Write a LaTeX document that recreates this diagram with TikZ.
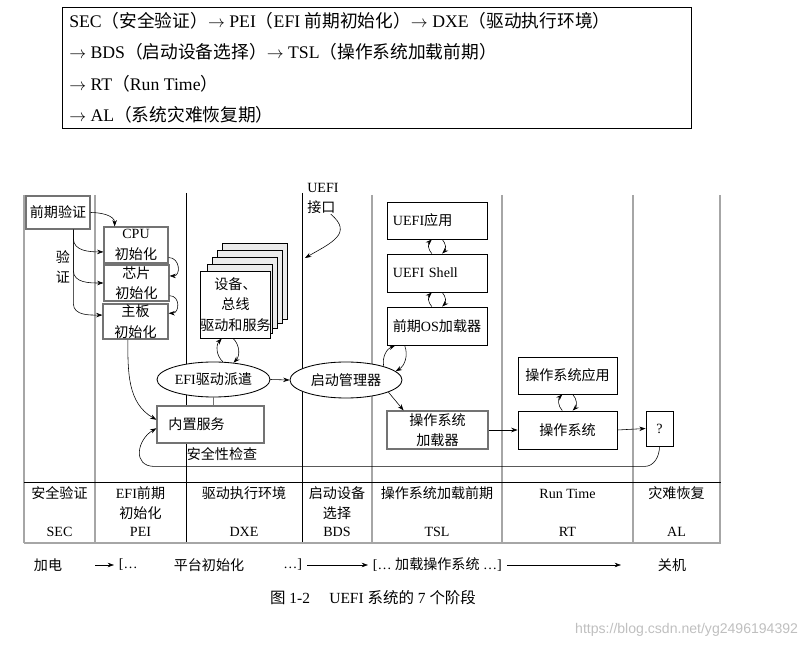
\documentclass[tikz,border=0pt]{standalone}
\usepackage{fontspec}
\setmainfont{Liberation Serif}
\newfontfamily\cjkfont{Noto Sans CJK SC}
\newfontfamily\urlfont{Liberation Sans}
\newcommand{\zh}[1]{{\cjkfont #1}}
\usetikzlibrary{arrows.meta,shapes.geometric}

\begin{document}
\begin{tikzpicture}[x=0.025cm,y=-0.025cm,
    >={Stealth[length=4.5pt,width=3.2pt]},
    font=\fontsize{10}{14.5}\selectfont,
    box/.style={draw,fill=white,line width=0.6pt,inner sep=0pt,align=center},
    gbox/.style={box,draw=black!55,line width=0.8pt},
    oval/.style={ellipse,draw,fill=white,line width=0.6pt,inner sep=0pt},
    gline/.style={draw=black!35,line width=1.1pt},
    vline/.style={draw=black,line width=0.6pt},
    riga/.style={anchor=west,inner sep=0pt,font=\fontsize{12.6}{14}\selectfont}]
    \useasboundingbox (0,0) rectangle (810,648);

    % Riquadro con le fasi
    \draw[line width=0.6pt] (62,7) rectangle (691,128);
    \node[riga] (riga1) at (69,21) {SEC\zh{（安全验证）}$\rightarrow$ PEI\zh{（}EFI \zh{前期初始化）}$\rightarrow$ DXE\zh{（驱动执行环境）}};
    \node[riga] (riga2) at (69,52) {$\rightarrow$ BDS\zh{（启动设备选择）}$\rightarrow$ TSL\zh{（操作系统加载前期）}};
    \node[riga] (riga3) at (69,84) {$\rightarrow$ RT\zh{（}Run Time\zh{）}};
    \node[riga] (riga4) at (69,115) {$\rightarrow$ AL\zh{（系统灾难恢复期）}};

    % Colonne delle fasi
    \foreach \x in {24,95,372,502,633,720}
        \draw[gline] (\x,195) -- (\x,543);
    \foreach \x in {186,302}
        \draw[vline] (\x,193) -- (\x,543);

    % SEC e PEI
    \node[gbox,minimum width=1.6cm,minimum height=0.825cm] (pre) at (58,212.5) {\zh{前期验证}};
    \node[gbox,minimum width=1.6cm,minimum height=0.9cm] (cpu) at (136,245) {CPU\\\zh{初始化}};
    \node[gbox,minimum width=1.625cm,minimum height=0.9cm] (chip) at (136.5,283) {\zh{芯片}\\\zh{初始化}};
    \node[gbox,minimum width=1.625cm,minimum height=0.875cm] (board) at (135.5,321.5) {\zh{主板}\\\zh{初始化}};
    \node[align=center] (yanzheng) at (63,267) {\zh{验}\\\zh{证}};

    \draw[->] (pre.east) to[out=0,in=90] (cpu.139);
    \draw[->] (pre.-48) -- ++(0,9) to[out=-90,in=180] (cpu.192);
    \draw[->] (pre.-48) -- ++(0,41) to[out=-90,in=180] (chip.west);
    \draw[->] (pre.-48) -- ++(0,74) to[out=-90,in=180] (board.169);
    \draw[->] (cpu.-21) to[out=0,in=0,looseness=1.6] (chip.12);
    \draw[->] (chip.-21) to[out=0,in=0,looseness=1.6] (board.14);

    % DXE
    \foreach \k in {4,3,2,1}
        \filldraw[fill=black!8,draw=black,line width=0.6pt] (203+4.75*\k,271-7*\k) rectangle (268+4.75*\k,338-4.75*\k);
    \node[box,minimum width=1.625cm,minimum height=1.675cm] (stack) at (235.5,304.5) {\zh{设备、}\\\zh{总线}\\\zh{驱动和服务}};
    \node[oval,minimum width=2.825cm,minimum height=0.875cm] (efi) at (213.5,379.5) {EFI\zh{驱动派遣}};
    \node[gbox,minimum width=2.675cm,minimum height=0.925cm,text width=2.1cm,align=left] (builtin) at (210.5,424.5) {\zh{内置服务}};
    \node (check) at (222,454) {\zh{安全性检查}};

    \draw[->] (efi.62) to[bend left=45] (stack.-112);
    \draw[->] (stack.-94) to[bend left=45] (efi.40);
    \draw[draw=black!55] (efi.south) -- (efi.south |- builtin.north);
    \draw[->] (board.-113) to[out=-90,in=150] (builtin.175);

    % BDS
    \node[anchor=north west,align=left,inner sep=0pt] (iface) at (307,183) {UEFI\\\zh{接口}};
    \coordinate (dxeedge) at (305,258);
    \draw[->] ([xshift=0.2cm]iface.south) to[out=-40,in=30,looseness=1.5] (dxeedge);
    \node[oval,minimum width=2.8cm,minimum height=0.9cm] (bm) at (346,380) {\zh{启动管理器}};
    \draw[->] (efi.east) -- (bm.west);

    % TSL
    \node[box,minimum width=2.5cm,minimum height=0.925cm,text width=2.2cm,align=left] (app) at (437,220.5) {UEFI\zh{应用}};
    \node[box,minimum width=2.5cm,minimum height=0.95cm,text width=2.2cm,align=left] (shell) at (437,273) {UEFI Shell};
    \node[box,minimum width=2.5cm,minimum height=0.95cm] (osl) at (437,326) {\zh{前期}OS\zh{加载器}};
    \node[gbox,minimum width=2.525cm,minimum height=0.95cm] (loader) at (437.5,430) {\zh{操作系统}\\\zh{加载器}};

    \draw[->] (bm.20) to[bend left=40] (osl.-155);
    \draw[->] (osl.-149) to[bend left=40] (bm.10);
    \draw[->] (bm.-16) -- (loader.150);

    % RT e AL
    \node[box,minimum width=2.475cm,minimum height=0.925cm] (osapp) at (567.5,375.5) {\zh{操作系统应用}};
    \node[box,minimum width=2.475cm,minimum height=0.95cm] (os) at (567.5,430) {\zh{操作系统}};
    \node[box,minimum width=0.675cm,minimum height=0.875cm] (q) at (659.5,428.5) {?};

    \foreach \su/\giu in {app/shell,shell/osl,osapp/os} {
        \draw[->] ([xshift=-0.13cm]\giu.north) to[bend left=45] ([xshift=-0.13cm]\su.south);
        \draw[->] ([xshift=0.13cm]\su.south) to[bend left=45] ([xshift=0.13cm]\giu.north);
    }
    \draw[->] (loader.east) -- (os.west);
    \draw[->] (os.east) -- (q.west);
    % Ritorno verso i servizi
    \draw[->] (q.south) to[out=-90,in=0] ++(-15,20) -- ++(-490,0) to[out=180,in=210,looseness=1.5] (builtin.184);

    % Tabella delle fasi
    \draw[vline] (24,482) -- (721,482);
    \draw[gline] (24,543) -- (721,543);
    \foreach \x/\nome/\sigla [count=\i] in {59.5/\zh{安全验证}/SEC,140.5/{EFI\zh{前期}\\\zh{初始化}}/PEI,244/\zh{驱动执行环境}/DXE,337/{\zh{启动设备}\\\zh{选择}}/BDS,437/\zh{操作系统加载前期}/TSL,567.5/Run Time/RT,676.5/\zh{灾难恢复}/AL} {
        \node[anchor=north,align=center,inner sep=0pt] (fase\i) at (\x,484) {\strut\nome};
        \node (sigla\i) at (\x,532) {\sigla};
    }

    % Sequenza temporale
    \node (pwr) at (48,565) {\zh{加电}};
    \node[anchor=west] (pf1) at (114,565) {[…};
    \node (pf) at (209,565) {\zh{平台初始化}};
    \node[anchor=east] (pf2) at (307,565) {…]};
    \node[anchor=west] (ld) at (368,565) {[… \zh{加载操作系统} …]};
    \node (off) at (672,565) {\zh{关机}};
    \draw[->] ([xshift=0.7cm]pwr.east) -- (pf1.west);
    \draw[->] (pf2.east) -- (ld.west);
    \draw[->] (ld.east) -- ([xshift=-0.8cm]off.west);

    \node[font=\fontsize{11}{13}\selectfont] (caption) at (373,598) {\zh{图} 1-2\quad\ UEFI \zh{系统的} 7 \zh{个阶段}};
    \node[anchor=east,text=black!25,font=\urlfont\fontsize{10}{12}\selectfont] (url) at (803,630) {https://blog.csdn.net/yg2496194392};
\end{tikzpicture}
\end{document}
